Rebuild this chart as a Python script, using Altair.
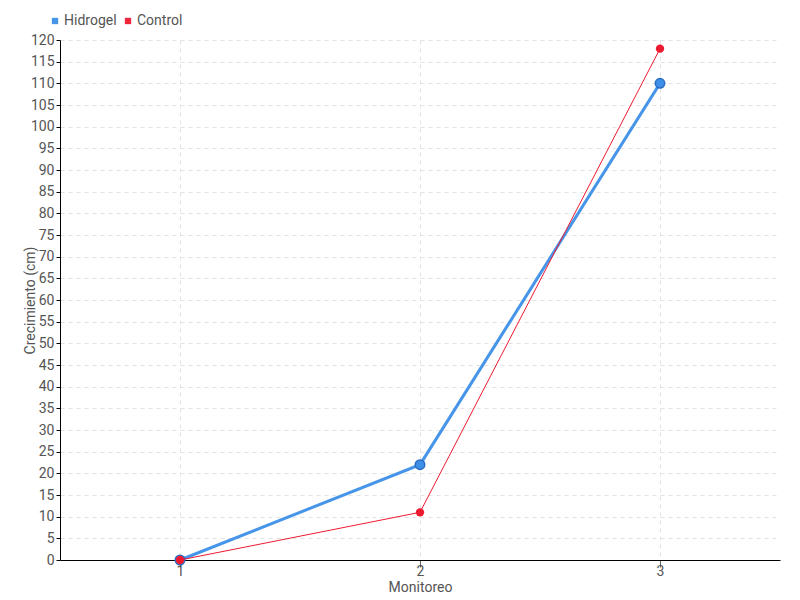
import altair as alt
import pandas as pd

monitoreo = ["1", "2", "3"]
hidrogel = [0, 22, 110]
control = [0, 11, 118]
series = ["Hidrogel", "Control"]
colors = ["#3d8fe8", "#ee1a2f"]
y_ticks = list(range(0, 121, 5))

rows = []
for m, h, c in zip(monitoreo, hidrogel, control):
    rows.append({"Monitoreo": m, "Serie": "Hidrogel", "Valor": h})
    rows.append({"Monitoreo": m, "Serie": "Control", "Valor": c})
df = pd.DataFrame(rows)

FONT = "Roboto, sans-serif"

x = alt.X("Monitoreo:O", scale=alt.Scale(type="point", padding=0.5, domain=monitoreo),
          axis=alt.Axis(title="Monitoreo", labelAngle=0, domainColor="black", tickColor="#666",
                        tickSize=7, labelPadding=-3, titlePadding=2, grid=True,
                        gridDash=[4, 4], gridColor="#e3e3e3"))
y = alt.Y("Valor:Q", scale=alt.Scale(domain=[0, 120], nice=False),
          axis=alt.Axis(title="Crecimiento (cm)", values=y_ticks, domainColor="black",
                        tickColor="black", tickSize=4, grid=True, gridDash=[4, 4],
                        gridColor="#e3e3e3", titleX=-30, titleY=260, titleBaseline="middle",
                        labelPadding=2))
color = alt.Color("Serie:N", scale=alt.Scale(domain=series, range=colors),
                  legend=alt.Legend(title=None, orient="none", legendX=-12, legendY=-26,
                                    direction="horizontal", symbolType="square",
                                    symbolSize=40, columnPadding=4, labelOffset=2,
                                    symbolStrokeWidth=0))

base = alt.Chart(df).encode(x=x, y=y, color=color)

blue = base.transform_filter(alt.datum.Serie == "Hidrogel")
red = base.transform_filter(alt.datum.Serie == "Control")

chart = alt.layer(
    blue.mark_line(strokeWidth=3, opacity=0.95),
    blue.mark_point(filled=True, size=90, opacity=1, stroke="#2a6cc0", strokeWidth=1.5),
    red.mark_line(strokeWidth=1),
    red.mark_point(filled=True, size=70, opacity=1),
).properties(
    width=720, height=520,
    autosize=alt.AutoSizeParams(type="none"),
    padding={"left": 52, "top": 32, "right": 10, "bottom": 40},
).configure_axis(
    labelFont=FONT, titleFont=FONT, labelFontSize=14, titleFontSize=14,
    labelColor="#555", titleColor="#555", titleFontWeight="normal",
).configure_legend(
    labelFont=FONT, labelFontSize=14, labelColor="#555",
).configure_view(stroke=None)

chart.save("out.html", embed_options={"renderer": "svg", "actions": False})
